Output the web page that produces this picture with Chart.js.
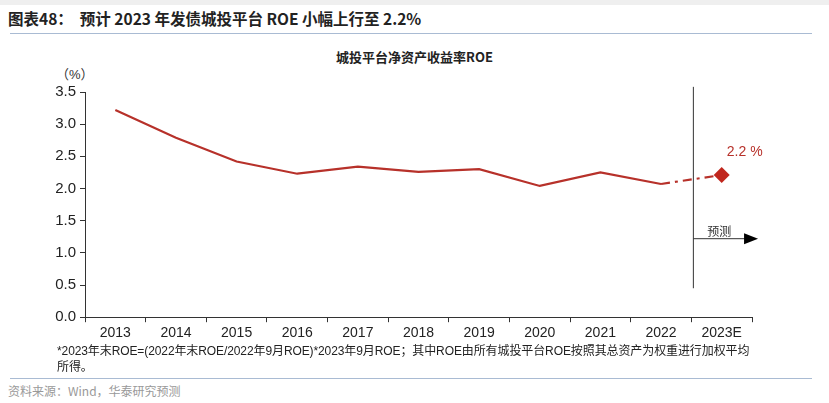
<!DOCTYPE html>
<html>
<head>
<meta charset="utf-8">
<script src="https://cdn.jsdelivr.net/npm/chart.js@4"></script>
<style>
  html, body { margin: 0; padding: 0; background: #fff; }
  #page { position: relative; width: 829px; height: 403px; overflow: hidden; font-family: "Noto Sans CJK SC", sans-serif; }
  .topbar { position: absolute; left: 0; top: 0; width: 829px; height: 5px; background: #efefef; }
  .header { position: absolute; left: 8px; top: 7px; font-size: 15.5px; font-weight: bold; color: #222; white-space: pre; }
  .rule { position: absolute; left: 10px; width: 802px; height: 0; border-top: 1.5px solid #a9bbd3; }
  .ctitle { position: absolute; left: 0; width: 829px; top: 47px; text-align: center; font-size: 13px; font-weight: bold; color: #222; }
  .unit { position: absolute; left: 56px; top: 64px; font-size: 13px; color: #333; font-family: "Liberation Sans", "Noto Sans CJK SC", sans-serif; }
  .note { position: absolute; left: 57px; top: 343px; font-size: 12px; line-height: 16px; color: #222; white-space: nowrap; font-family: "Liberation Sans", "Noto Sans CJK SC", sans-serif; letter-spacing: -0.1px; }
  .source { position: absolute; left: 8px; top: 382px; font-size: 12px; color: #999; }
  #wrap { position: absolute; left: 0; top: 40px; width: 829px; height: 305px; }
</style>
</head>
<body>
<div id="page">
  <div class="topbar"></div>
  <div class="header">图表48：  预计 2023 年发债城投平台 ROE 小幅上行至 2.2%</div>
  <div class="rule" style="top:33px"></div>
  <div class="ctitle">城投平台净资产收益率ROE</div>
  <div class="unit">（%）</div>
  <div id="wrap"><canvas id="roeChart"></canvas></div>
  <div class="note">*2023年末ROE=(2022年末ROE/2022年9月ROE)*2023年9月ROE；其中ROE由所有城投平台ROE按照其总资产为权重进行加权平均<br>所得。</div>
  <div class="rule" style="top:378px"></div>
  <div class="source">资料来源：Wind，华泰研究预测</div>
</div>
<script>
const categories = ['2013', '2014', '2015', '2016', '2017', '2018', '2019', '2020', '2021', '2022', '2023E'];
const roeActual = [3.22, 2.79, 2.42, 2.23, 2.34, 2.26, 2.30, 2.04, 2.25, 2.07, null];
const roeForecast = [null, null, null, null, null, null, null, null, null, 2.07, 2.21];
const yTicks = [0, 0.5, 1.0, 1.5, 2.0, 2.5, 3.0, 3.5];
const forecastLabel = '2.2 %';

const red = '#b7312a';

// divider between actual and forecast, with the "预测" arrow
const forecastMarker = {
    id: 'forecastMarker',
    afterDatasetsDraw(chart) {
        const { ctx, scales: { x, y } } = chart;
        const last = categories.length - 1;
        const band = x.getPixelForValue(last) - x.getPixelForValue(last - 1);
        const xb = x.getPixelForValue(last) - band / 2 + 2;
        ctx.save();
        ctx.strokeStyle = '#333';
        ctx.lineWidth = 1;
        ctx.beginPath();
        ctx.moveTo(xb, y.getPixelForValue(3.58));
        ctx.lineTo(xb, y.getPixelForValue(0.45));
        ctx.stroke();

        const ay = y.getPixelForValue(1.22);
        const ax = x.getPixelForValue(last) + band * 0.6;
        ctx.beginPath();
        ctx.moveTo(xb, ay);
        ctx.lineTo(ax - 12, ay);
        ctx.stroke();
        ctx.fillStyle = '#000';
        ctx.beginPath();
        ctx.moveTo(ax, ay);
        ctx.lineTo(ax - 14, ay - 5.5);
        ctx.lineTo(ax - 14, ay + 5.5);
        ctx.closePath();
        ctx.fill();

        ctx.font = '12px "Noto Sans CJK SC"';
        ctx.fillStyle = '#333';
        ctx.textAlign = 'center';
        ctx.textBaseline = 'bottom';
        ctx.fillText('预测', xb + 26, ay - 1);

        const pt = chart.getDatasetMeta(1).data[last];
        ctx.font = '14px "Liberation Sans"';
        ctx.fillStyle = red;
        ctx.textBaseline = 'middle';
        ctx.fillText(forecastLabel, pt.x + 23, pt.y - 23);
        ctx.restore();
    }
};

new Chart(document.getElementById('roeChart'), {
    type: 'line',
    data: {
        labels: categories,
        datasets: [{
            data: roeActual,
            borderColor: red,
            borderWidth: 2.2,
            pointRadius: 0,
            tension: 0,
            spanGaps: false
        }, {
            data: roeForecast,
            borderColor: red,
            borderWidth: 2.2,
            borderDash: [9, 5, 3, 5],
            pointStyle: 'rectRot',
            pointRadius: roeForecast.map((v, i) => i === categories.length - 1 ? 8 : 0),
            pointBackgroundColor: '#c0261d',
            pointBorderColor: '#c0261d',
            pointBorderWidth: 0,
            tension: 0
        }]
    },
    options: {
        responsive: true,
        maintainAspectRatio: false,
        animation: false,
        layout: { padding: { top: 52, right: 77, left: 0, bottom: 0 } },
        plugins: {
            legend: { display: false },
            tooltip: { enabled: false }
        },
        scales: {
            x: {
                offset: true,
                grid: { display: true, drawOnChartArea: false, drawTicks: true, tickLength: 5, color: '#333', offset: true },
                border: { display: true, color: '#333', width: 1 },
                ticks: { color: '#222', font: { family: 'Liberation Sans', size: 14 }, padding: 3, maxRotation: 0, autoSkip: false }
            },
            y: {
                min: 0,
                max: 3.5,
                afterBuildTicks: (s) => { s.ticks = yTicks.map(v => ({ value: v })); },
                afterFit: (s) => { s.width = 85; },
                grid: { display: true, drawOnChartArea: false, drawTicks: true, tickLength: 5, color: '#333' },
                border: { display: true, color: '#333', width: 1 },
                ticks: {
                    color: '#222',
                    font: { family: 'Liberation Sans', size: 15 },
                    padding: 4,
                    callback: (v) => Number(v).toFixed(1)
                }
            }
        }
    },
    plugins: [forecastMarker]
});
</script>
</body>
</html>
